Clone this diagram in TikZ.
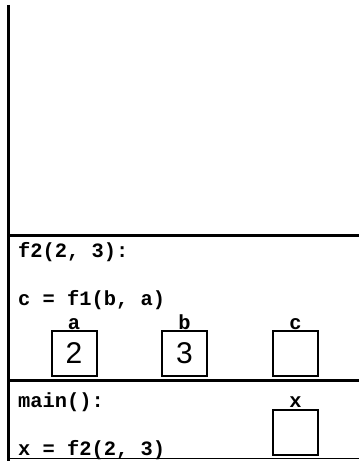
\documentclass[tikz,border=0pt]{standalone}
\usepackage{fontspec}
\setmainfont{Liberation Sans}
\setmonofont{Liberation Mono}
\begin{document}
\begin{tikzpicture}[x=1bp,y=-1bp,
  code/.style={anchor=base west,inner sep=0pt,font=\ttfamily\bfseries\fontsize{20.4bp}{24bp}\selectfont},
  varlabel/.style={anchor=base,inner sep=0pt,font=\ttfamily\bfseries\fontsize{20.4bp}{24bp}\selectfont},
  varbox/.style={draw,line width=2bp,minimum width=45bp,minimum height=45bp,inner sep=0pt,font=\fontsize{30bp}{32bp}\selectfont},
  thick rule/.style={line width=3bp},
]
\useasboundingbox (0,0) rectangle (359,461);
% frame lines
\draw[thick rule] (8,5) -- (8,461);
\draw[thick rule] (8,235) -- (359,235);
\draw[line width=2.7bp] (8,380.5) -- (359,380.5);
\draw[line width=1.2bp] (8,458.5) -- (359,458.5);
% f2 frame
\node[code] (f2head) at (18,257) {f2(2, 3):};
\node[code] (f2line) at (18,305) {c = f1(b, a)};
\node[varbox] (boxa) at (74,353.5) {2};
\node[varbox] (boxb) at (184.5,353.5) {3};
\node[varbox] (boxc) at (295.5,353.5) {};
\node[varlabel] (laba) at (74,329) {a};
\node[varlabel] (labb) at (184.5,329) {b};
\node[varlabel] (labc) at (295.5,329) {c};
% main frame
\node[code] (mainhead) at (18,407) {main():};
\node[code] (mainline) at (18,455) {x = f2(2, 3)};
\node[varbox] (boxx) at (295.5,432) {};
\node[varlabel] (labx) at (295.5,407) {x};
\end{tikzpicture}
\end{document}
